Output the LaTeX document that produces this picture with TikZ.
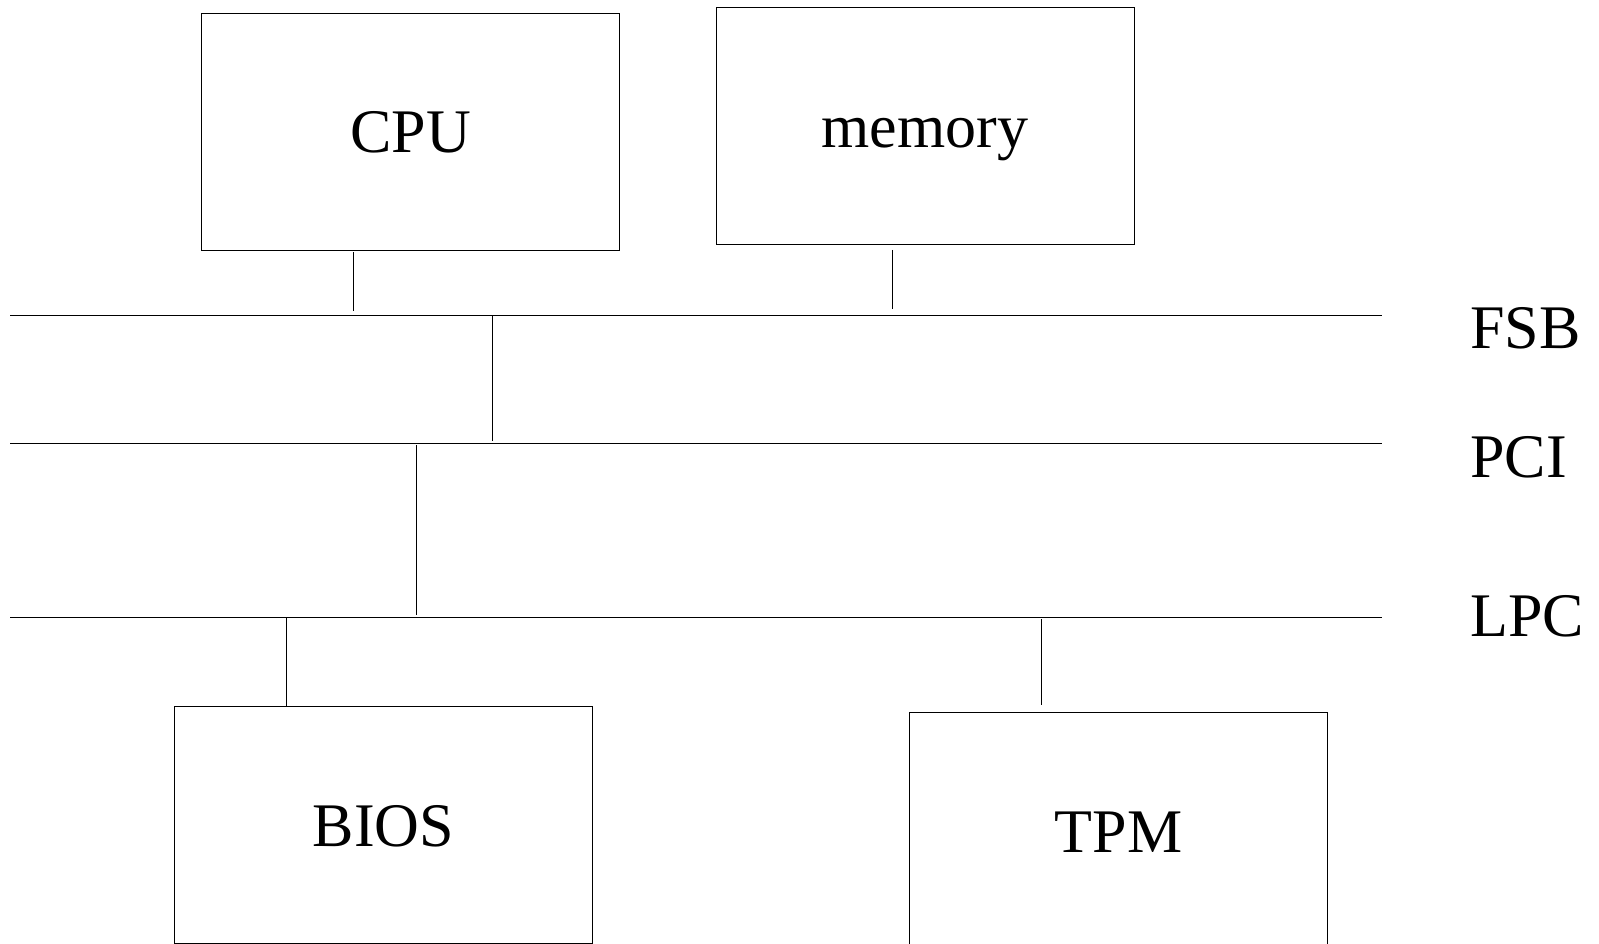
\documentclass[tikz,border=0pt]{standalone}
\usepackage{fontspec}
\setmainfont{Liberation Serif}
\begin{document}
\begin{tikzpicture}[x=1pt,y=-1pt,
  unit/.style={draw=black,line width=0.9pt,inner sep=0pt,minimum width=418pt,minimum height=237pt,
    text height=43pt,text depth=0pt,font=\fontsize{62}{70}\selectfont},
  bus/.style={line width=0.9pt},
  link/.style={line width=0.9pt},
  buslabel/.style={anchor=base west,inner sep=0pt,font=\fontsize{62}{70}\selectfont}]
\useasboundingbox (0,0) rectangle (1599,944);
\begin{scope}
\clip (0,0) rectangle (1599,944);
\node[unit] (cpu) at (410.5,131.5) {CPU};
\node[unit] (mem) at (925,126) {memory};
\node[unit] (bios) at (383.5,824.5) {BIOS};
\node[unit] (tpm) at (1118.5,830.5) {TPM};
\end{scope}
% buses
\coordinate (fsbL) at (10,315);   \coordinate (fsbR) at (1382,315);
\coordinate (pciL) at (10,443.5); \coordinate (pciR) at (1382,443.5);
\coordinate (lpcL) at (10,617);   \coordinate (lpcR) at (1382,617);
\draw[bus] (fsbL) -- (fsbR);
\draw[bus] (pciL) -- (pciR);
\draw[bus] (lpcL) -- (lpcR);
\node[buslabel] (fsb) at (1470,348) {FSB};
\node[buslabel] (pci) at (1470,477) {PCI};
\node[buslabel] (lpc) at (1470,636) {LPC};
% taps
\coordinate (tCPU) at (353,315);
\coordinate (tMEM) at (892.5,315);
\coordinate (tFP) at (492.5,315);
\coordinate (tPL) at (416,443.5);
\coordinate (tBIOS) at (286.5,617);
\coordinate (tTPM) at (1041.5,617);
\draw[link,shorten <=2pt,shorten >=4pt] (tCPU |- cpu.south) -- (tCPU);
\draw[link,shorten <=5pt,shorten >=6pt] (tMEM |- mem.south) -- (tMEM);
\draw[link,shorten >=3pt] (tFP) -- (tFP |- pciL);
\draw[link,shorten <=1.5pt,shorten >=2pt] (tPL) -- (tPL |- lpcL);
\draw[link] (tBIOS) -- (tBIOS |- bios.north);
\draw[link,shorten <=2pt,shorten >=7pt] (tTPM) -- (tTPM |- tpm.north);
\end{tikzpicture}
\end{document}
